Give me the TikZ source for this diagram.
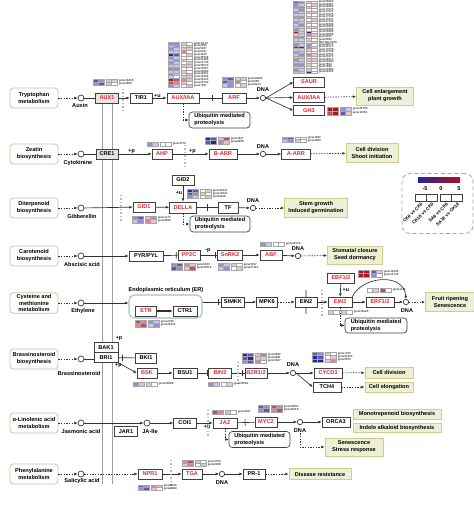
\documentclass[tikz,border=0pt]{standalone}
\usepackage{fontspec}
\setmainfont{Liberation Sans}
\usetikzlibrary{arrows.meta}
\usetikzlibrary{decorations.markings}
\definecolor{kred}{HTML}{E3262D}
\definecolor{hblue}{HTML}{23239A}
\definecolor{hred}{HTML}{B0121E}
\definecolor{resfill}{HTML}{EBF0D6}
\definecolor{resdraw}{HTML}{D2CC86}
\definecolor{srcdraw}{HTML}{B6D09F}
\definecolor{erdraw}{HTML}{A8BCD2}
\newcommand{\bfs}{\fontsize{4.2}{5.2}\selectfont\bfseries}
\tikzset{
    wd/.style={minimum width=#1*0.75pt},
    ht/.style={minimum height=#1*0.75pt},
    gene/.style={draw=black!75, fill=white, line width=0.45pt, minimum height=7.5pt, minimum width=16.5pt, inner sep=0.5pt, font=\bfs},
    rgene/.style={gene, text=kred},
    src/.style={draw=srcdraw, fill=white, rounded corners=2.5pt, line width=0.6pt, minimum width=36pt, minimum height=15pt, align=center, inner sep=1pt, font=\bfs},
    res/.style={draw=resdraw, fill=resfill, line width=0.6pt, align=center, inner sep=0.8pt, font=\bfs},
    ubq/.style={draw=black!75, fill=white, rounded corners=2.5pt, line width=0.5pt, align=left, inner sep=1pt, font=\bfs},
    cpd/.style={circle, draw=black!80, fill=white, inner sep=0pt, minimum size=4.5pt, line width=0.5pt},
    dnac/.style={circle, draw=black!80, fill=white, inner sep=0pt, minimum size=4pt, line width=0.5pt},
    ln/.style={draw=black!80, line width=0.5pt},
    act/.style={ln, -{Latex[length=2.5pt,width=2.2pt]}},
    ind/.style={act, dash pattern=on 1pt off 1pt},
    inh/.style={ln, decoration={markings, mark=at position #1 with {\draw[line width=0.5pt] (0,-2.4pt) -- (0,2.4pt);}}, postaction={decorate}},
    inh/.default=0.7,
    gmark/.style={draw=gray!55, line width=1.1pt, dash pattern=on 1pt off 1.6pt},
    memb/.style={draw=gray!75, line width=0.5pt},
    lbl/.style={font=\bfs, inner sep=0.5pt},
    plab/.style={font=\fontsize{4}{4}\selectfont\bfseries, inner sep=0.4pt},
    gl/.style={font=\fontsize{2.2}{2.4}\selectfont, inner sep=0pt, anchor=west},
}
% one heatmap cell, value -5..5
\newcommand{\hcell}[4]{%
  \pgfmathtruncatemacro\hpct{min(100,abs(#3)*25)}%
  \ifnum#3<0\relax\def\hcol{hblue}\else\def\hcol{hred}\fi
  \filldraw[fill=\hcol!\hpct!white, draw=gray!70, line width=0.15pt] (#1,#2) rectangle ++(5.5,#4);}
% heatmap: name, x, y (top), row height, rows v1/v2/v3/v4/gene
\newcommand{\heatmap}[5]{%
  \begin{scope}[shift={(#2,#3)}]
    \foreach \va/\vb/\vc/\vd/\gn [count=\r from 0] in {#5}{
      \hcell{0}{\r*#4}{\va}{#4}
      \hcell{5.5}{\r*#4}{\vb}{#4}
      \hcell{13}{\r*#4}{\vc}{#4}
      \hcell{18.5}{\r*#4}{\vd}{#4}
      \node[gl] (#1-\r) at (25.5,{(\r+0.5)*#4}) {\gn};
    }
  \end{scope}}

\begin{document}
\begin{tikzpicture}[x=0.75pt,y=-0.75pt]
\useasboundingbox (0,0) rectangle (474,510);

% membrane
\draw[memb] (102,103) -- (102,484);
\draw[memb] (112,103) -- (112,484);

% sources and ligands
\foreach \n/\y/\txt/\lig/\lx/\ly in {
    trp/98/{Tryptophan\\metabolism}/Auxin/80/105,
    zea/154/{Zeatin\\biosynthesis}/Cytokinine/78/163,
    dit/208/{Diterpenoid\\biosynthesis}/Gibberellin/82/216,
    car/256/{Carotenoid\\biosynthesis}/Abscisic acid/82/264,
    cys/303/{Cysteine and\\methionine\\metabolism}/Ethylene/83/311,
    bra/359/{Brassinosteroid\\biosynthesis}/Brassinosteroid/79/373,
    lin/423/{α-Linolenic acid\\metabolism}/Jasmonic acid/81/431,
    phe/474/{Phenylalanine\\metabolism}/Salicylic acid/82/481}{
    \node[src] (s-\n) at (34,\y) {\txt};
    \node[cpd] (c-\n) at (81,\y) {};
    \node[lbl] (l-\n) at (\lx,\ly) {\lig};
    \draw[ind] (s-\n) -- (c-\n);
}

% auxin
\node[gene, fill=gray!20, text=kred, wd=23] (aux1) at (107,98) {AUX1};
\node[gene, wd=22] (tir1) at (141,98) {TIR1};
\node[rgene, wd=32] (auxiaa) at (183,98) {AUX/IAA};
\node[rgene, wd=24] (arf) at (234,98) {ARF};
\node[dnac] (dnaA) at (263,98) {};
\node[lbl] (dnaAl) at (263,90) {DNA};
\node[rgene, wd=31] (saur) at (309,82) {SAUR};
\node[rgene, wd=31] (auxiaa2) at (309,97.5) {AUX/IAA};
\node[rgene, wd=31] (gh3) at (309,110.5) {GH3};
\node[res, wd=57, ht=18] (growth) at (385,96) {Cell enlargement\\plant growth};
\node[ubq, wd=61, ht=16] (ubA) at (219.5,120) {Ubiquitin mediated\\proteolysis};

% cytokinine
\node[gene, fill=gray!20, wd=22] (cre1) at (107,154) {CRE1};
\node[rgene, wd=20] (ahp) at (162,154) {AHP};
\node[rgene, wd=28] (barr) at (223,154) {B-ARR};
\node[dnac] (dnaB) at (263,154) {};
\node[lbl] (dnaBl) at (263,147) {DNA};
\node[rgene, wd=29] (aarr) at (296,154) {A-ARR};
\node[res, wd=52, ht=19] (shoot) at (372,153) {Cell division\\Shoot initiation};

% gibberellin
\node[gene, wd=22] (gid2) at (183,180) {GID2};
\node[rgene, wd=22] (gid1) at (144,207) {GID1};
\node[rgene, wd=27, ht=11] (della) at (183,207.5) {DELLA};
\node[gene, wd=20, ht=11] (tf) at (228,207.5) {TF};
\node[dnac] (dnaC) at (253,208) {};
\node[lbl] (dnaCl) at (253,201) {DNA};
\node[res, wd=63, ht=19] (stem) at (316,208) {Stem growth\\Induced germination};
\node[ubq, wd=60, ht=16] (ubB) at (220,224) {Ubiquitin mediated\\proteolysis};

% abscisic acid
\node[gene, wd=34] (pyr) at (146,256) {PYR/PYL};
\node[rgene, wd=22] (pp2c) at (189,255) {PP2C};
\node[rgene, wd=25] (snrk2) at (230,255) {SnRK2};
\node[rgene, wd=22] (abf) at (271,255) {ABF};
\node[dnac] (dnaD) at (298,256) {};
\node[lbl] (dnaDl) at (298,248.5) {DNA};
\node[res, wd=55, ht=18] (stoma) at (355,255) {Stomatal closure\\Seed dormancy};

% ethylene
\node[draw=erdraw, rounded corners=4pt, line width=0.8pt, wd=73, ht=23] (er) at (165.5,306.5) {};
\node[lbl] (erl) at (166,290) {Endoplasmic reticulum (ER)};
\node[rgene, wd=21] (etr) at (146,311) {ETR};
\node[gene, wd=24] (ctr1) at (185,311) {CTR1};
\node[gene, wd=23] (simkk) at (233,302) {SIMKK};
\node[gene, wd=21] (mpk6) at (267,302) {MPK6};
\draw[draw=gray!60, line width=0.8pt] (306,290) -- (306,314);
\node[gene, wd=22] (ein2) at (306,302) {EIN2};
\node[rgene, wd=24] (ein3) at (340,302) {EIN3};
\node[rgene, wd=27] (ebf) at (341,278) {EBF1/2};
\node[rgene, wd=28] (erf) at (380,302) {ERF1/2};
\node[dnac] (dnaE) at (406,302) {};
\node[lbl] (dnaEl) at (407,311) {DNA};
\node[res, wd=49, ht=19] (fruit) at (450,302) {Fruit ripening\\Senescence};
\node[ubq, wd=62, ht=15] (ubC) at (376,325.5) {Ubiquitin mediated\\proteolysis};

% brassinosteroid
\node[gene, wd=24] (bak1) at (106,347.5) {BAK1};
\node[gene, wd=24] (bri1) at (106,357.5) {BRI1};
\node[plab] (bakp) at (119,338) {+p};
\node[gene, wd=21] (bki1) at (146,358) {BKI1};
\node[rgene, wd=20] (bsk) at (147,373) {BSK};
\node[gene, wd=24] (bsu1) at (185,373) {BSU1};
\node[rgene, wd=23] (bin2) at (220,373) {BIN2};
\node[rgene, wd=22] (bzr) at (256,373) {BZR1/2};
\node[dnac] (dnaF) at (293,373) {};
\node[lbl] (dnaFl) at (293,365) {DNA};
\node[rgene, wd=28] (cycd3) at (328,373) {CYCD3};
\node[gene, wd=28] (tch4) at (327,387) {TCH4};
\node[res, wd=48, ht=11] (celldiv) at (389,372.5) {Cell division};
\node[res, wd=48, ht=10] (cellel) at (389,387) {Cell elongation};

% jasmonic acid
\node[gene, wd=23] (jar1) at (126,431.5) {JAR1};
\node[cpd] (jaile) at (147,423) {};
\node[lbl] (jailel) at (150,431) {JA-Ile};
\node[gene, wd=23] (coi1) at (185,423) {COI1};
\node[rgene, wd=24] (jaz) at (225,423) {JAZ};
\node[rgene, wd=22] (myc2) at (266,422) {MYC2};
\node[dnac] (dnaG) at (300,422) {};
\node[lbl] (dnaGl) at (300,430.5) {DNA};
\node[gene, wd=28] (orca3) at (336,422) {ORCA3};
\node[res, wd=88, ht=10] (mono) at (397,414) {Monotrepenoid biosynthesis};
\node[res, wd=88, ht=9] (indole) at (397,428) {Indole alkaloid biosynthesis};
\node[res, wd=58, ht=18] (senes) at (354,447) {Senescence\\Stress response};
\node[ubq, wd=61, ht=16] (ubD) at (259.5,439.5) {Ubiquitin mediated\\proteolysis};

% salicylic acid
\node[rgene, wd=24] (npr1) at (150,474) {NPR1};
\node[rgene, wd=20] (tga) at (192,474) {TGA};
\node[dnac] (dnaH) at (222,474) {};
\node[lbl] (dnaHl) at (222,483) {DNA};
\node[gene, wd=22] (pr1) at (254,474) {PR-1};
\node[res, wd=62, ht=11] (disease) at (320,474) {Disease resistance};

% connectors
\draw[ln] (c-trp) -- (aux1);
\draw[act] (aux1) -- (tir1);
\draw[act] (tir1) -- node[plab, above, pos=0.35] {+u} (auxiaa);
\draw[inh=0.6] (auxiaa) -- (arf);
\draw[act] (arf) -- (dnaA);
\draw[act] (dnaA.east) -- (saur.west);
\draw[act] (dnaA.east) -- (auxiaa2.west);
\draw[act] (dnaA.east) -- (gh3.west);
\draw[ind] (auxiaa2) -- (growth);
\draw[ind] (auxiaa.south) |- (ubA);

\draw[ln] (c-zea) -- (cre1);
\draw[act] (cre1) -- node[plab, above, pos=0.4] {+p} (ahp);
\draw[act] (ahp) -- node[plab, above, pos=0.55] {+p} (barr);
\draw[act] (barr) -- (dnaB);
\draw[act] (dnaB) -- (aarr);
\draw[ind] (aarr) -- (shoot);

\draw[act] (c-dit) -- (gid1);
\draw[act] (gid2) -- node[plab, left, pos=0.45] {+u} (della);
\draw[act] (gid1) -- (della);
\draw[inh=0.5] (della) -- (tf);
\draw[act] (tf) -- (dnaC);
\draw[ind] (dnaC) -- (stem);
\draw[ind] (della.south) |- (ubB);

\draw[act] (c-car) -- (pyr);
\draw[inh=0.9] (pyr) -- (pp2c);
\draw[inh=0.9] (pp2c) -- node[plab, above=1.5pt, pos=0.45] {-p} (snrk2);
\draw[act] (snrk2) -- (abf);
\draw[act] (abf) -- (dnaD);
\draw[ind] (dnaD) -- (stoma);

\draw[act] (c-cys) -- (c-cys -| er.west);
\draw[act, line width=1pt] (etr) -- (ctr1);
\draw[inh=0.85] (er.east |- simkk) -- (simkk);
\draw[act] (simkk) -- (mpk6);
\draw[ind] (mpk6) -- (ein2);
\draw[act] (ein2) -- (ein3);
\draw[act] (ebf) -- node[plab, right=1pt, pos=0.5] {+u} (ein3);
\draw[act] (ein3) -- (erf);
\draw[act] (erf) -- (dnaE);
\draw[act] (ein3.north east) .. controls (362,276) and (404,272) .. (dnaE.north);
\draw[ind] (dnaE) -- (fruit);
\draw[ind] (ein3.south) |- (ubC);

\draw[ln] (c-bra) -- (c-bra -| bri1.west);
\draw[inh=0.25] (bri1) -- (bki1);
\draw[act] (bri1.south east) -- node[plab, left=1pt, pos=0.3] {+p} (bsk.west);
\draw[act] (bsk) -- (bsu1);
\draw[inh=0.9] (bsu1) -- (bin2);
\draw[inh=0.85] (bin2) -- (bzr);
\draw[act] (bzr) -- (dnaF);
\draw[act] (dnaF.east) -- (cycd3.west);
\draw[act] (dnaF.east) -- (tch4.west);
\draw[ind] (cycd3) -- (celldiv);
\draw[ind] (tch4) -- (cellel);

\draw[act] (c-lin) -- (jaile);
\draw[act] (jaile) -- (coi1);
\draw[act] (coi1) -- node[plab, below=1pt, pos=0.65] {+u} (jaz);
\draw[inh=0.45] (jaz) -- (myc2);
\draw[act] (myc2) -- (dnaG);
\draw[act] (dnaG) -- (orca3);
\draw[ind] (dnaGl.south) |- (senes);
\draw[ind] (jaz.south) |- (ubD);

\draw[ind] (c-phe) -- (npr1);
\draw[act] (npr1) -- (tga);
\draw[act] (tga) -- (dnaH);
\draw[act] (dnaH) -- (pr1);
\draw[ind] (pr1) -- (disease);

% grey markers
\draw[gmark] (123,89) -- (123,113);
\draw[gmark] (185,145) -- (185,166);
\draw[gmark] (121,195) -- (121,221);
\draw[gmark] (322,290) -- (322,316);
\draw[gmark] (238,362) -- (238,386);
\draw[gmark] (208,410) -- (208,436);
\draw[gmark] (171,460) -- (171,489);

% heatmaps
\heatmap{hA}{93}{79}{3.3}{-3/-2/-1/1/gene13456, -2/-3/1/0/gene2609}
\heatmap{hB}{168}{42}{2.8}{-2/-2/1/0/gene11123, -1/-2/0/1/gene2395, -2/-1/1/1/gene5467,
    -1/-1/2/0/gene6247, -5/-3/0/1/gene4126, -2/-1/0/0/gene35526, -1/-2/1/0/gene31406,
    -2/-1/0/1/gene21740, -1/-1/1/1/gene35543, -2/-2/0/0/gene15667, -1/-1/1/0/gene28689,
    -2/-1/0/1/gene24021, -1/0/1/1/gene16109, 4/3/2/1/gene31225, 3/2/1/0/gene25729,
    -2/-1/0/1/gene7597}
\heatmap{hC}{222}{77}{3.3}{-2/-3/1/-1/gene33099, -3/-2/2/0/gene585, -1/-2/0/1/gene8414}
\heatmap{hD}{293}{1}{2.5}{-3/-2/1/0/gene20263, -2/-1/0/1/gene20287, -2/-2/1/0/gene20288,
    -1/-2/0/0/gene17523, -2/-1/1/1/gene17524, -1/-1/0/0/gene17526, -2/-2/1/0/gene17540,
    -1/-1/0/1/gene17541, -2/-1/1/0/gene17542, -1/-2/0/0/gene20290, -1/-1/1/1/gene20296,
    -2/-1/0/0/gene20305, 5/1/-4/0/gene20306, -1/-1/2/1/gene33088, -2/-2/0/0/gene3355,
    1/1/1/0/gene5093, -1/-1/0/1/MSTRG.5430, -2/-1/-2/0/gene30673, 4/4/-2/1/gene33175,
    -1/-1/1/0/gene17530, -2/-1/0/0/gene17538, -1/-2/2/1/gene17554, -1/-1/0/0/gene20273,
    -2/-1/1/1/gene20275, -1/-1/0/0/gene20280, -2/-2/1/0/gene7604, -1/-1/0/0/gene7638,
    -2/-1/1/0/gene13460, -1/-1/-5/0/gene20454}
\heatmap{hE}{327}{107}{4}{4/5/-2/-1/gene35150, 3/4/-3/1/gene11953}
\heatmap{hF}{147}{142}{4}{-2/-1/0/0/gene4576}
\heatmap{hG}{205}{137}{3.5}{-4/-3/-1/3/gene4447, -3/-4/2/-1/gene8950}
\heatmap{hH}{282}{137}{2.5}{-2/-3/0/0/gene1682, -1/-2/1/0/gene1063}
\heatmap{hI}{187}{189}{3}{-4/-3/0/1/gene20442, -3/-2/1/0/gene13524, -2/-1/0/1/gene5428}
\heatmap{hJ}{132}{216}{3.5}{-2/-3/1/2/gene1173, -1/-2/2/1/gene6893}
\heatmap{hK}{171}{263}{3.5}{-2/-3/2/1/gene6333, -3/-2/1/3/gene20618}
\heatmap{hL}{218}{263}{3.5}{-2/-1/1/0/gene3397, -1/-2/0/1/gene27119}
\heatmap{hM}{260}{242}{4}{-2/-1/0/0/gene21520}
\heatmap{hN}{135}{320}{3.5}{3/2/-2/-1/gene2105, 2/3/-1/-2/gene26444}
\heatmap{hO}{358}{270}{3.5}{5/4/-3/-1/gene14206, 4/5/-2/0/gene14729}
\heatmap{hP}{328}{310}{4}{1/0/1/0/gene14928}
\heatmap{hQ}{367}{288}{4}{0/1/3/0/gene1146}
\heatmap{hR}{133}{382}{4}{-2/-1/1/0/gene23888}
\heatmap{hS}{208}{382}{4}{-2/-1/0/1/gene26582}
\heatmap{hT}{242}{353}{3.3}{-4/-3/1/-2/gene6982, -3/-4/-1/1/gene6981, -2/-3/2/0/gene5847}
\heatmap{hU}{312}{352}{3.3}{-3/-2/1/0/gene1755, -4/-3/0/1/gene22320, -5/-4/1/2/gene6563}
\heatmap{hV}{212}{410}{4}{3/2/-1/0/gene4207}
\heatmap{hW}{258}{405}{3.5}{-3/-2/3/2/gene20602, -2/-3/2/3/gene26218}
\heatmap{hX}{138}{485}{2.5}{-3/-2/2/1/gene6528, -2/-3/1/0/gene6899}
\heatmap{hY}{182}{460}{3}{2/3/-1/0/gene4763, 1/2/0/-1/gene6480}

% legend
\node[draw=gray!70, dash pattern=on 3pt off 2pt, rounded corners=6pt, line width=0.6pt, wd=71, ht=60] (legend) at (437.5,203.5) {};
\shade[left color=hblue, middle color=white, right color=hred] (418,177) rectangle (460,182.5);
\foreach \tx/\tt [count=\i] in {425/-5, 441/0, 459/5}
    \node[lbl] (tick-\i) at (\tx,189) {\tt};
\foreach \cx in {415,426,440,451.5}
    \draw[black!75, line width=0.4pt] (\cx,194) rectangle ++(11,7);
\foreach \cx/\tt [count=\i] in {420.5/CK6 vs CK0, 431.5/CK18 vs CK0, 446/SA6 vs CK6, 457/SA18 vs CK18}
    \node[lbl, rotate=45, anchor=east, font=\fontsize{3.4}{4}\selectfont\bfseries] (lg-\i) at (\cx+2,203) {\tt};
\end{tikzpicture}
\end{document}
